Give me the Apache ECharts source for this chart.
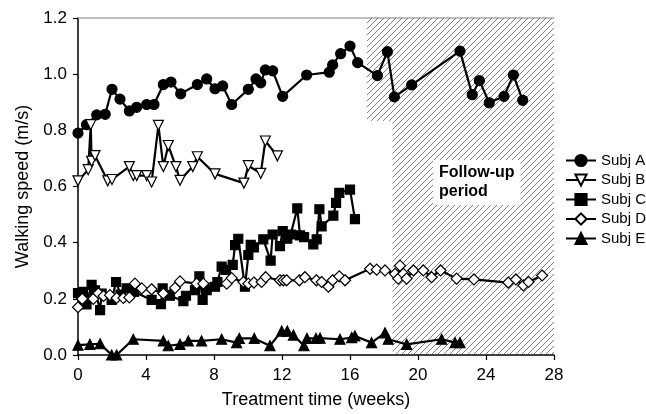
<!DOCTYPE html>
<html>
<head>
<meta charset="utf-8">
<script src="https://cdn.jsdelivr.net/npm/echarts@6/dist/echarts.min.js"></script>
<style>
  html, body { margin: 0; padding: 0; background: #fff; }
  #main { width: 646px; height: 414px; }
</style>
</head>
<body>
<div id="main"></div>
<script>
// walking speed (m/s) per treatment week
const subjA = [[0,0.79],[0.5,0.82],[1.1,0.855],[1.6,0.857],[2.0,0.946],[2.47,0.911],[3.02,0.869],[3.45,0.882],[4.04,0.892],[4.47,0.892],[5.02,0.963],[5.47,0.972],[6.04,0.930],[7.02,0.963],[7.57,0.983],[8.06,0.948],[8.51,0.958],[9.04,0.892],[10.02,0.946],[10.47,0.983],[10.75,0.969],[11.02,1.015],[11.45,1.012],[12.04,0.921],[13.45,0.997],[14.78,1.007],[14.98,1.033],[15.45,1.073],[16.0,1.100],[16.45,1.041],[17.61,0.995],[18.2,1.080],[18.61,0.919],[19.63,0.962],[22.47,1.082],[23.19,0.927],[23.61,0.977],[24.19,0.898],[25.06,0.921],[25.61,0.997],[26.16,0.907]];
const subjB = [[0,0.62],[0.6,0.66],[0.75,0.82],[0.8,0.69],[1.0,0.71],[1.75,0.62],[2.0,0.625],[3.02,0.671],[3.25,0.639],[3.45,0.639],[4.04,0.639],[4.33,0.616],[4.73,0.818],[5.02,0.671],[5.31,0.746],[5.76,0.671],[6.0,0.622],[6.75,0.671],[7.02,0.706],[8.06,0.645],[9.76,0.612],[10.02,0.674],[10.75,0.647],[11.02,0.762],[11.73,0.709]];
const subjC = [[0,0.22],[0.3,0.225],[0.5,0.18],[0.8,0.25],[1.0,0.23],[1.3,0.16],[1.39,0.219],[1.98,0.196],[2.24,0.260],[2.5,0.215],[2.86,0.237],[3.3,0.225],[4.33,0.196],[4.88,0.181],[4.98,0.237],[5.41,0.211],[6.2,0.192],[6.35,0.211],[6.88,0.231],[7.14,0.280],[7.33,0.196],[7.57,0.231],[8.06,0.243],[8.2,0.260],[8.45,0.315],[8.71,0.303],[9.1,0.321],[9.24,0.391],[9.43,0.414],[9.82,0.243],[10.02,0.356],[10.16,0.392],[10.35,0.383],[10.9,0.412],[11.33,0.336],[11.45,0.429],[11.88,0.388],[12.04,0.441],[12.31,0.414],[12.51,0.429],[12.9,0.522],[13.06,0.426],[13.3,0.42],[13.84,0.394],[14.04,0.412],[14.2,0.519],[14.33,0.458],[15.02,0.496],[15.18,0.542],[15.37,0.577],[16.0,0.589],[16.29,0.484]];
const subjD = [[0,0.17],[0.25,0.2],[0.9,0.2],[1.2,0.22],[1.5,0.21],[1.88,0.213],[2.27,0.203],[2.67,0.203],[3.02,0.205],[3.35,0.254],[3.75,0.237],[4.33,0.234],[5.02,0.219],[5.71,0.239],[6.0,0.262],[6.98,0.254],[7.37,0.254],[8.75,0.254],[9.04,0.274],[9.73,0.260],[10.02,0.254],[10.35,0.258],[10.8,0.260],[11.04,0.277],[11.88,0.266],[12.08,0.266],[12.27,0.266],[13.02,0.266],[13.35,0.277],[14.02,0.266],[14.33,0.260],[14.73,0.243],[14.98,0.266],[15.37,0.280],[15.71,0.266],[17.18,0.307],[17.57,0.304],[18.06,0.301],[18.65,0.289],[18.84,0.272],[18.94,0.318],[19.14,0.289],[19.33,0.272],[19.73,0.301],[20.31,0.301],[20.8,0.277],[21.33,0.301],[22.27,0.272],[23.29,0.269],[25.31,0.258],[25.76,0.269],[26.2,0.248],[26.5,0.26],[27.3,0.283]];
const subjE = [[0,0.035],[0.7,0.038],[1.3,0.04],[1.98,0.0],[2.27,0.0],[3.25,0.056],[5.02,0.05],[5.31,0.033],[6.0,0.038],[6.49,0.05],[7.27,0.05],[8.45,0.056],[9.33,0.044],[9.49,0.059],[10.37,0.059],[11.29,0.033],[11.98,0.085],[12.31,0.085],[12.67,0.071],[13.29,0.033],[13.47,0.059],[14.0,0.059],[14.24,0.06],[15.41,0.056],[16.1,0.062],[16.29,0.068],[17.27,0.044],[18.06,0.079],[18.25,0.056],[19.33,0.038],[21.39,0.056],[22.18,0.044],[22.47,0.044]];

// follow-up period boxes: [xFrom, xTo, yFrom, yTo]
const followUp = [[17, 28, 0.833, 1.2], [18.5, 28, 0, 0.833]];

const FONT = '"Liberation Sans", Arial, sans-serif';

// diagonal hatch pattern
const hatch = document.createElement('canvas');
hatch.width = 6;
hatch.height = 6;
const hctx = hatch.getContext('2d');
hctx.strokeStyle = '#4a4a4a';
hctx.lineWidth = 0.7;
hctx.beginPath();
hctx.moveTo(0, 6); hctx.lineTo(6, 0);
hctx.moveTo(-1, 1); hctx.lineTo(1, -1);
hctx.moveTo(5, 7); hctx.lineTo(7, 5);
hctx.stroke();

function makeSeries(name, data, symbol, size, filled, rotate) {
    return {
        name: name,
        type: 'line',
        data: data,
        symbol: symbol,
        symbolSize: size,
        symbolRotate: rotate || 0,
        lineStyle: { color: '#000', width: 2.2 },
        itemStyle: {
            color: filled ? '#000' : '#fff',
            borderColor: '#000',
            borderWidth: 1.2
        },
        z: 3,
        animation: false
    };
}

const chart = echarts.init(document.getElementById('main'));

const series = [
    makeSeries('Subj A', subjA, 'circle', 10, true),
    makeSeries('Subj B', subjB, 'triangle', 10, false, 180),
    makeSeries('Subj C', subjC, 'rect', 9, true),
    makeSeries('Subj D', subjD, 'diamond', 11, false),
    makeSeries('Subj E', subjE, 'triangle', 10, true)
];

series[0].markArea = {
    silent: true,
    itemStyle: { color: { image: hatch, repeat: 'repeat' } },
    label: { show: false },
    data: followUp.map(b => [{ coord: [b[0], b[3]] }, { coord: [b[1], b[2]] }])
};

chart.setOption({
    backgroundColor: '#fff',
    animation: false,
    grid: { left: 78, right: 92, top: 18, bottom: 53 },
    legend: {
        orient: 'vertical',
        left: 560,
        top: 148,
        itemWidth: 30,
        itemHeight: 14,
        itemGap: 4.5,
        textStyle: { fontFamily: FONT, fontSize: 15, color: '#000' },
        data: ['Subj A', 'Subj B', 'Subj C', 'Subj D', 'Subj E']
    },
    xAxis: [{
        type: 'value',
        min: 0,
        max: 28,
        interval: 4,
        name: 'Treatment time (weeks)',
        nameLocation: 'middle',
        nameGap: 36,
        nameTextStyle: { fontFamily: FONT, fontSize: 18, color: '#000' },
        axisLine: { lineStyle: { color: '#000', width: 1.5 } },
        axisTick: { show: true, length: 5, lineStyle: { color: '#000', width: 1.2 } },
        axisLabel: { fontFamily: FONT, fontSize: 17, color: '#000', margin: 12 },
        splitLine: { show: false }
    }, {
        type: 'value',
        position: 'top',
        min: 0,
        max: 28,
        axisLine: { show: true, lineStyle: { color: '#aaa', width: 1.5 } },
        axisTick: { show: false },
        axisLabel: { show: false },
        splitLine: { show: false }
    }],
    yAxis: {
        type: 'value',
        min: 0,
        max: 1.2,
        interval: 0.2,
        name: 'Walking speed (m/s)',
        nameLocation: 'middle',
        nameGap: 40,
        nameTextStyle: { fontFamily: FONT, fontSize: 18, color: '#000' },
        axisLine: { show: true, lineStyle: { color: '#000', width: 1.5 } },
        axisTick: { show: true, length: 5, lineStyle: { color: '#000', width: 1.2 } },
        axisLabel: {
            fontFamily: FONT, fontSize: 17, color: '#000', margin: 11,
            formatter: v => v.toFixed(1)
        },
        splitLine: { show: false }
    },
    graphic: [{
        type: 'text',
        left: 433,
        top: 160,
        z: 10,
        style: {
            text: 'Follow-up\nperiod',
            font: 'bold 16px ' + FONT,
            fill: '#000',
            align: 'center',
            lineHeight: 19,
            backgroundColor: '#fff',
            padding: [3, 6, 4, 6]
        }
    }],
    series: series
});
</script>
</body>
</html>
